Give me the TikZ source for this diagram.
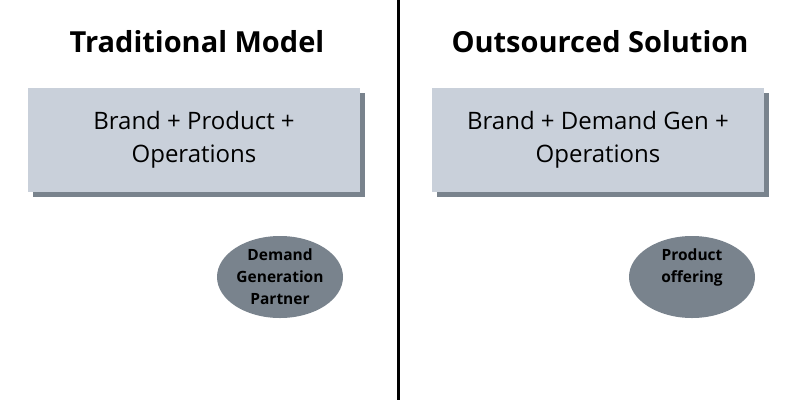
\documentclass[tikz,border=0pt]{standalone}
\usepackage{fontspec}
\setmainfont{Open Sans}
\usetikzlibrary{shadows,shapes.geometric}
\definecolor{boxfill}{HTML}{C9D0DA}
\definecolor{shadowgray}{HTML}{79838D}
\definecolor{ovalgray}{HTML}{79838D}
\begin{document}
\begin{tikzpicture}[x=1pt,y=-1pt,
  title/.style={font=\fontsize{29}{33}\selectfont\bfseries},
  modelbox/.style={fill=boxfill, minimum width=332pt, minimum height=104pt,
    align=center, inner sep=0pt, font=\fontsize{24}{33}\selectfont,
    drop shadow={shadow xshift=5pt, shadow yshift=-5pt, fill=shadowgray, opacity=1}},
  oval/.style={ellipse, fill=ovalgray, minimum width=126pt, minimum height=82pt,
    inner sep=0pt, align=center, font=\fontsize{15.5}{22}\selectfont\bfseries}]
  \useasboundingbox (0,0) rectangle (800,400);

  % divider
  \coordinate (top) at (398,0);
  \coordinate (bottom) at (398,400);
  \draw[line width=3pt] (top) -- (bottom);

  % left side
  \node[title] (tradtitle) at (197,42) {Traditional Model};
  \node[modelbox] (tradbox) at (194,140) {Brand + Product +\\Operations};
  \node[oval] (partner) at (280,277) {Demand\\Generation\\Partner};

  % right side
  \node[title] (outtitle) at (600,42) {Outsourced Solution};
  \node[modelbox] (outbox) at (598,140) {Brand + Demand Gen +\\Operations};
  \node[oval] (offering) at (692,277) {Product\\offering\\\mbox{}};

\end{tikzpicture}
\end{document}
